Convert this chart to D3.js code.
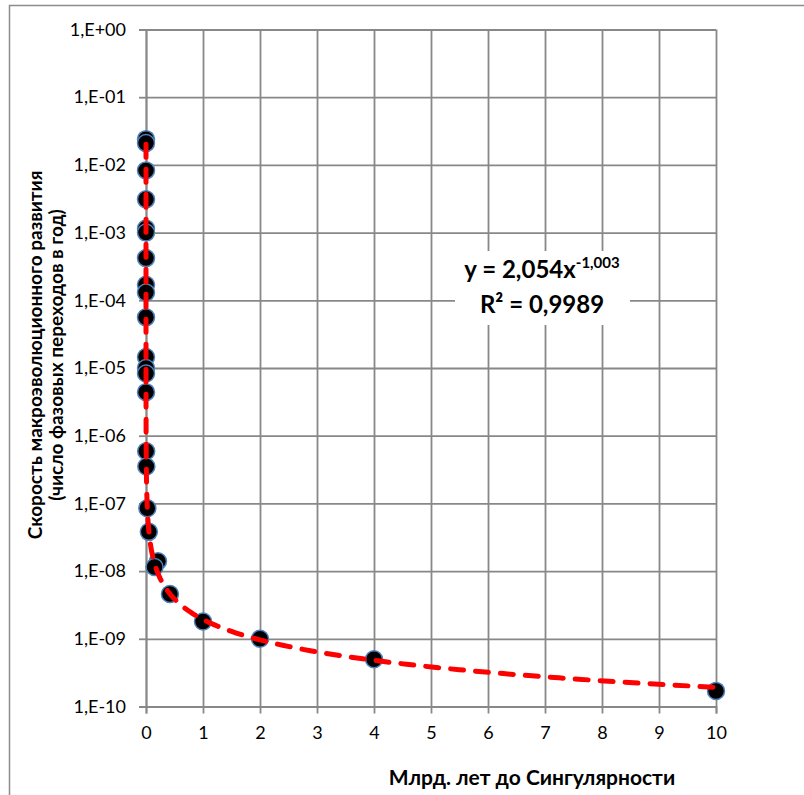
<!DOCTYPE html>
<html>
<head>
<meta charset="utf-8">
<title>Macroevolution rate</title>
<script src="https://cdnjs.cloudflare.com/ajax/libs/d3/7.8.5/d3.min.js"></script>
<style>
  body { margin: 0; background: #fff; }
  text { font-family: Lato, "Open Sans", sans-serif; fill: #000; }
</style>
</head>
<body>
<svg id="chart" width="804" height="795"></svg>
<script>
// billion years to singularity
var xVals = [1e-7, 1.1e-7, 2.5e-7, 6.6e-7, 1.8e-6, 2e-6, 5e-6, 1.2e-5, 1.6e-5, 3.7e-5,
             1.4e-4, 2e-4, 2.5e-4, 4.7e-4, 3.5e-3, 6e-3, 0.024, 0.05, 0.21, 0.15,
             0.42, 1, 2, 4, 10];
// phase transitions per year
var yVals = [2.4e-2, 2.1e-2, 8.3e-3, 3.1e-3, 1.15e-3, 1.0e-3, 4.2e-4, 1.7e-4, 1.3e-4, 5.6e-5,
             1.45e-5, 1.0e-5, 8.3e-6, 4.4e-6, 5.9e-7, 3.5e-7, 8.5e-8, 3.8e-8, 1.4e-8, 1.15e-8,
             4.6e-9, 1.8e-9, 1.0e-9, 5.0e-10, 1.7e-10];
var xTicks = [0, 1, 2, 3, 4, 5, 6, 7, 8, 9, 10];
var yTicks = [1, 1e-1, 1e-2, 1e-3, 1e-4, 1e-5, 1e-6, 1e-7, 1e-8, 1e-9, 1e-10];
// trendline y = 2,054 * x^-1,003 (x in years)
var fitA = 2.054, fitB = -1.003;

var svg = d3.select("#chart");

// chart border
svg.append("rect")
  .attr("x", 9.5).attr("y", 5.5)
  .attr("width", 830).attr("height", 830)
  .attr("fill", "#fff").attr("stroke", "#8c8c8c").attr("stroke-width", 1.5);

var x = d3.scaleLinear().domain([0, 10]).range([146, 716]);
var y = d3.scaleLog().domain([1e-10, 1]).range([706.5, 29.5]);

var gridColor = "#888";

// gridlines
svg.append("g")
  .attr("transform", "translate(0,706.5)")
  .call(d3.axisBottom(x).tickValues(xTicks).tickSize(-677).tickFormat(""))
  .call(function(g){ g.select(".domain").remove(); })
  .selectAll("line").attr("stroke", gridColor).attr("stroke-width", 1.8);

svg.append("g")
  .attr("transform", "translate(146,0)")
  .call(d3.axisLeft(y).tickValues(yTicks).tickSize(-570).tickFormat(""))
  .call(function(g){ g.select(".domain").remove(); })
  .selectAll("line").attr("stroke", gridColor).attr("stroke-width", 1.8);

// axes
var fmtY = function(d){
  var e = Math.round(Math.log10(d));
  if (e === 0) return "1,E+00";
  return "1,E-" + (Math.abs(e) < 10 ? "0" : "") + Math.abs(e);
};

var gy = svg.append("g")
  .attr("transform", "translate(146,0)")
  .call(d3.axisLeft(y).tickValues(yTicks).tickSize(7).tickPadding(13).tickFormat(fmtY));
gy.select(".domain").attr("stroke", gridColor).attr("stroke-width", 1.8);
gy.selectAll("line").attr("stroke", gridColor).attr("stroke-width", 1.8);
gy.selectAll("text").attr("font-size", 18).attr("font-family", "Lato, sans-serif");

var gx = svg.append("g")
  .attr("transform", "translate(0,706.5)")
  .call(d3.axisBottom(x).tickValues(xTicks).tickSize(7).tickPadding(13).tickFormat(d3.format("d")));
gx.select(".domain").attr("stroke", gridColor).attr("stroke-width", 1.8);
gx.selectAll("line").attr("stroke", gridColor).attr("stroke-width", 1.8);
gx.selectAll("text").attr("font-size", 18).attr("font-family", "Lato, sans-serif");

// points
var pts = xVals.map(function(v, i){ return {x: v, y: yVals[i]}; });
svg.append("g").selectAll("circle")
  .data(pts)
  .enter().append("circle")
  .attr("cx", function(d){ return x(d.x); })
  .attr("cy", function(d){ return y(d.y); })
  .attr("r", 8.5)
  .attr("fill", "#000")
  .attr("stroke", "#4f81bd")
  .attr("stroke-width", 1.5);

// trendline
var lx = d3.range(-7, 1.0001, 0.02).map(function(e){ return Math.pow(10, e); });
var line = d3.line()
  .x(function(d){ return x(d); })
  .y(function(d){ return y(fitA * Math.pow(d * 1e9, fitB)); });
svg.append("path")
  .datum(lx)
  .attr("d", line)
  .attr("fill", "none")
  .attr("stroke", "#ff0000")
  .attr("stroke-width", 5)
  .attr("stroke-linecap", "round")
  .attr("stroke-dasharray", "13,12");

// equation label
svg.append("rect")
  .attr("x", 455).attr("y", 251).attr("width", 175).attr("height", 74)
  .attr("fill", "#fff");
var eq = svg.append("text")
  .attr("x", 542).attr("y", 278)
  .attr("text-anchor", "middle")
  .attr("font-size", 24).attr("font-weight", "bold")
  .attr("font-family", "'Open Sans', sans-serif");
eq.append("tspan").text("y = 2,054x");
eq.append("tspan").attr("dy", -10).attr("font-size", 15).text("-1,003");
var r2 = svg.append("text")
  .attr("x", 542).attr("y", 313)
  .attr("text-anchor", "middle")
  .attr("font-size", 24).attr("font-weight", "bold")
  .attr("font-family", "'Open Sans', sans-serif");
r2.append("tspan").text("R² = 0,9989");

// axis titles
svg.append("text")
  .attr("x", 532).attr("y", 785)
  .attr("text-anchor", "middle")
  .attr("font-size", 21).attr("font-weight", "bold")
  .attr("font-family", "'Open Sans', sans-serif")
  .text("Млрд. лет до Сингулярности");

var yt = svg.append("text")
  .attr("transform", "translate(0,355) rotate(-90)")
  .attr("text-anchor", "middle")
  .attr("font-size", 19).attr("font-weight", "bold")
  .attr("font-family", "'Open Sans', sans-serif");
yt.append("tspan").attr("x", 0).attr("y", 42).text("Скорость макроэволюционного развития");
yt.append("tspan").attr("x", 0).attr("y", 63).text("(число фазовых переходов в год)");
</script>
</body>
</html>
